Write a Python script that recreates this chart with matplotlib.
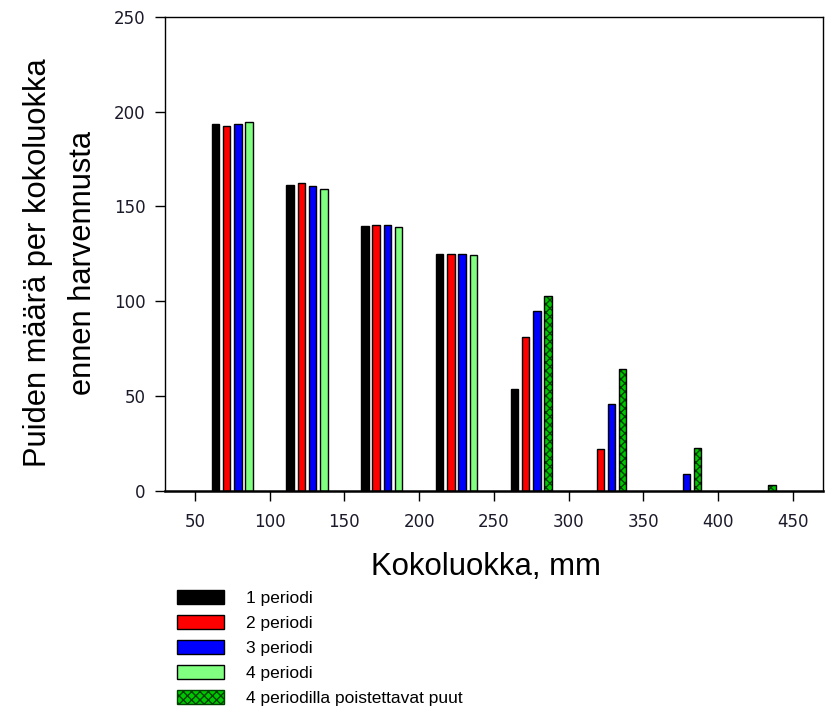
import numpy as np
import matplotlib.pyplot as plt
from matplotlib.patches import Patch

# size classes (mm) and tree counts per period (nan = no bar)
nan = np.nan
classes = np.array([75, 125, 175, 225, 275, 325, 375, 425])
period1 = [193.5, 161.5, 139.7, 125.0, 53.5, nan, nan, nan]
period2 = [192.5, 162.3, 140.2, 125.0, 81.0, 22.0, nan, nan]
period3 = [193.4, 160.8, 140.2, 125.0, 95.0, 45.8, 8.8, nan]
period4 = [194.6, 159.4, 139.2, 124.4, nan, nan, nan, nan]
removed4 = [nan, nan, nan, nan, 102.6, 64.2, 22.7, 3.0]

labels = ["1 periodi", "2 periodi", "3 periodi", "4 periodi",
          "4 periodilla poistettavat puut"]
colors = ["#000000", "#ff0000", "#0000ff", "#80ff80"]
hatch_green = "#00c800"

fig = plt.figure(figsize=(8.36, 7.08), dpi=100)
ax = fig.add_axes([0.1974, 0.3069, 0.7866, 0.6691])

w = 5
offsets = [-11.25, -3.75, 3.75, 11.25]
series = [period1, period2, period3, period4]
for vals, off, c in zip(series, offsets, colors):
    ax.bar(classes + off, vals, width=w, color=c, edgecolor="black", linewidth=1)

# removed trees share the 4th slot, hatched green
ax.bar(classes + offsets[3], removed4, width=w, color=hatch_green,
       edgecolor="#004000", hatch="xxxx", linewidth=0)
ax.bar(classes + offsets[3], removed4, width=w, fill=False,
       edgecolor="black", linewidth=1)

ax.set_xlim(30, 470)
ax.set_ylim(0, 250)
ax.set_xticks(np.arange(50, 451, 50))
ax.set_yticks(np.arange(0, 251, 50))
ax.tick_params(axis="both", direction="out", length=7, width=1, labelsize=12,
               pad=7, labelcolor="#1a1a2a")
ax.tick_params(axis="x", pad=9)
for s in ax.spines.values():
    s.set_linewidth(1)
ax.spines["bottom"].set_linewidth(1.8)

ax.set_xlabel("Kokoluokka, mm", fontsize=22.4, family="Liberation Sans")
ax.xaxis.set_label_coords(0.488, -0.129)
ax.set_ylabel("Puiden määrä per kokoluokka\nennen harvennusta", fontsize=22.2,
              family="Liberation Sans", linespacing=1.65)
ax.yaxis.set_label_coords(-0.102, 0.481)

handles = [Patch(facecolor=c, edgecolor="black") for c in colors]
handles.append(Patch(facecolor=hatch_green, edgecolor="#004000", hatch="xxxx"))
fig.legend(handles, labels, loc="upper left", bbox_to_anchor=(0.212, 0.167),
           frameon=False, prop={"family": "Liberation Sans", "size": 12.5},
           handlelength=2.7, handleheight=0.85, handletextpad=1.25,
           labelspacing=0.53, borderaxespad=0, borderpad=0)

fig.savefig("out.png", dpi=100)
